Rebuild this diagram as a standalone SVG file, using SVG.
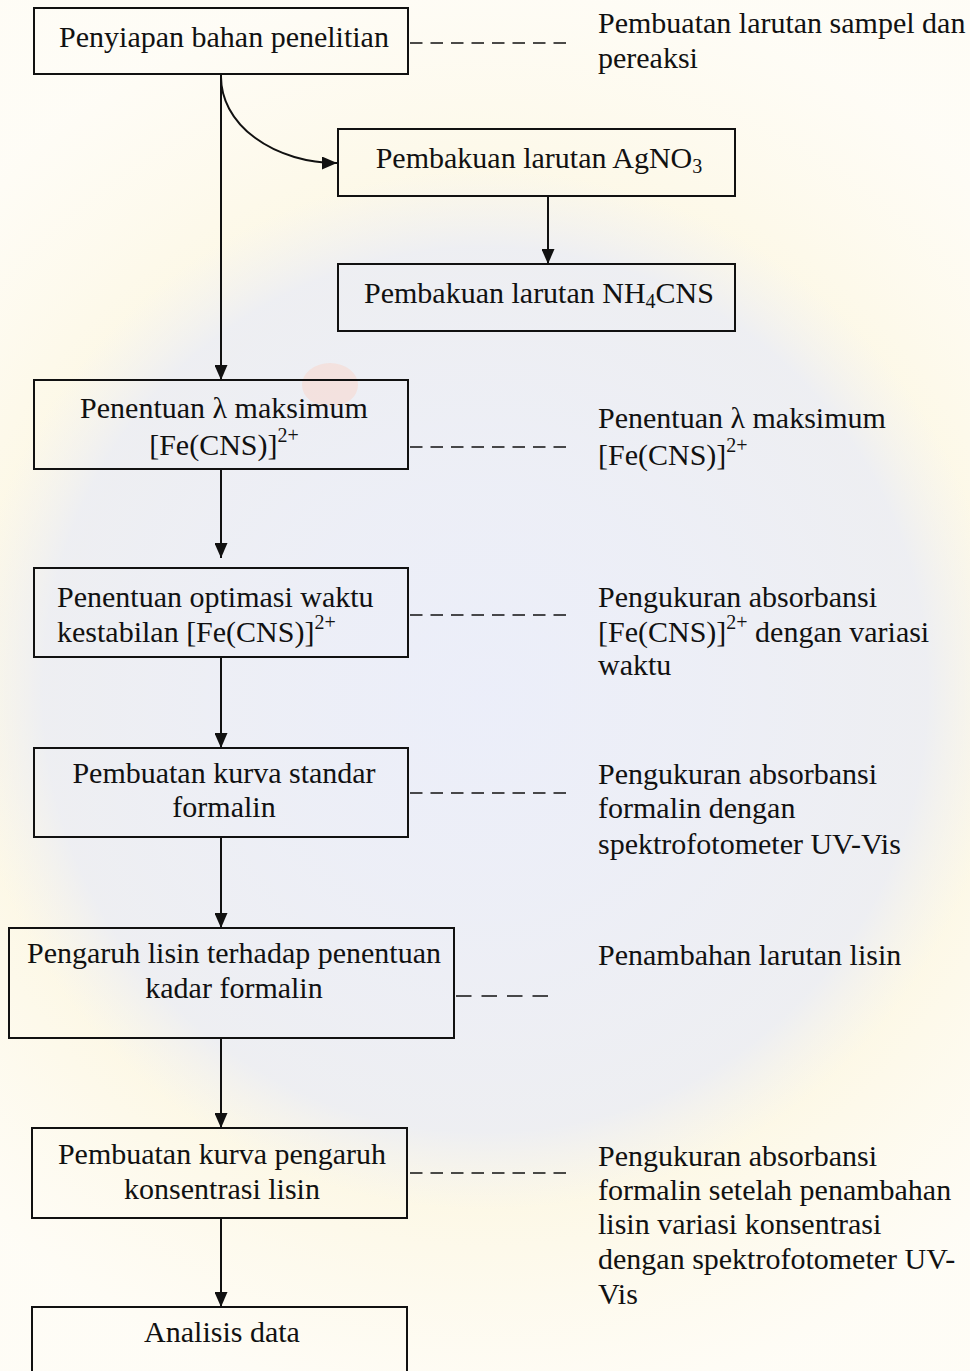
<svg xmlns="http://www.w3.org/2000/svg" width="970" height="1371" viewBox="0 0 970 1371">
<style>
text{font-family:"Liberation Serif","Times New Roman",serif;font-size:30px;fill:#111}
.c{text-anchor:middle}
.sup{font-size:20px}
.sub{font-size:20px}
.box{fill:none;stroke:#111;stroke-width:2}
.ln{fill:none;stroke:#111;stroke-width:2}
.dash{fill:none;stroke:#111;stroke-width:1.6;stroke-dasharray:12.5 8}
.dash2{fill:none;stroke:#111;stroke-width:1.6;stroke-dasharray:15.5 10}
</style>
<defs>
<marker id="ah" viewBox="0 0 15 13" refX="15" refY="6.5" markerWidth="15" markerHeight="13" markerUnits="userSpaceOnUse" orient="auto">
<path d="M0,0 L15,6.5 L0,13 Z" fill="#111"/>
</marker>
<radialGradient id="wmY" cx="485" cy="700" r="720" gradientUnits="userSpaceOnUse">
<stop offset="0" stop-color="#fbf3d4" stop-opacity="0"/>
<stop offset="0.6" stop-color="#fbf4d8" stop-opacity="0.8"/>
<stop offset="1" stop-color="#fdf8e8" stop-opacity="0.4"/>
</radialGradient>
<radialGradient id="wmB" cx="485" cy="690" r="520" gradientUnits="userSpaceOnUse">
<stop offset="0" stop-color="#e8ebf8" stop-opacity="0.85"/>
<stop offset="0.85" stop-color="#e9ecf8" stop-opacity="0.75"/>
<stop offset="1" stop-color="#eef0fa" stop-opacity="0"/>
</radialGradient>
</defs>
<rect x="0" y="0" width="970" height="1371" fill="#ffffff"/>
<g id="watermark">
<rect x="0" y="0" width="970" height="1371" fill="url(#wmY)"/>
<circle cx="485" cy="690" r="520" fill="url(#wmB)"/>
<ellipse cx="330" cy="385" rx="28" ry="22" fill="#f6d9d0" opacity="0.6"/>
</g>

<g id="connectors">
<line class="ln" x1="221" y1="74" x2="221" y2="380" marker-end="url(#ah)"/>
<path class="ln" d="M221,77 A116,86 0 0 0 337,163" marker-end="url(#ah)"/>
<line class="ln" x1="548" y1="196" x2="548" y2="264" marker-end="url(#ah)"/>
<line class="ln" x1="221" y1="469" x2="221" y2="558" marker-end="url(#ah)"/>
<line class="ln" x1="221" y1="657" x2="221" y2="748" marker-end="url(#ah)"/>
<line class="ln" x1="221" y1="837" x2="221" y2="928" marker-end="url(#ah)"/>
<line class="ln" x1="221" y1="1038" x2="221" y2="1128" marker-end="url(#ah)"/>
<line class="ln" x1="221" y1="1218" x2="221" y2="1307" marker-end="url(#ah)"/>
<line class="dash" x1="410" y1="43" x2="566" y2="43"/>
<line class="dash" x1="410" y1="447" x2="566" y2="447"/>
<line class="dash" x1="410" y1="615" x2="566" y2="615"/>
<line class="dash" x1="410" y1="793" x2="566" y2="793"/>
<line class="dash2" x1="456" y1="996" x2="548" y2="996"/>
<line class="dash" x1="410" y1="1173" x2="566" y2="1173"/>
</g>

<g id="n1">
<rect class="box" x="34" y="8" width="374" height="66"/>
<text class="c" x="224" y="47">Penyiapan bahan penelitian</text>
</g>
<g id="n1-note">
<text x="598" y="33">Pembuatan larutan sampel dan</text>
<text x="598" y="68">pereaksi</text>
</g>

<g id="n2">
<rect class="box" x="338" y="129" width="397" height="67"/>
<text class="c" x="539" y="168">Pembakuan larutan AgNO<tspan class="sub" dy="5">3</tspan></text>
</g>

<g id="n3">
<rect class="box" x="338" y="264" width="397" height="67"/>
<text class="c" x="539" y="303">Pembakuan larutan NH<tspan class="sub" dy="5">4</tspan><tspan dy="-5">CNS</tspan></text>
</g>

<g id="n4">
<rect class="box" x="34" y="380" width="374" height="89"/>
<text class="c" x="224" y="418">Penentuan λ maksimum</text>
<text class="c" x="224" y="455">[Fe(CNS)]<tspan class="sup" dy="-13">2+</tspan></text>
</g>
<g id="n4-note">
<text x="598" y="428">Penentuan λ maksimum</text>
<text x="598" y="465">[Fe(CNS)]<tspan class="sup" dy="-13">2+</tspan></text>
</g>

<g id="n5">
<rect class="box" x="34" y="568" width="374" height="89"/>
<text x="57" y="607">Penentuan optimasi waktu</text>
<text x="57" y="642">kestabilan [Fe(CNS)]<tspan class="sup" dy="-13">2+</tspan></text>
</g>
<g id="n5-note">
<text x="598" y="607">Pengukuran absorbansi</text>
<text x="598" y="642">[Fe(CNS)]<tspan class="sup" dy="-13">2+</tspan><tspan dy="13"> dengan variasi</tspan></text>
<text x="598" y="675">waktu</text>
</g>

<g id="n6">
<rect class="box" x="34" y="748" width="374" height="89"/>
<text class="c" x="224" y="783">Pembuatan kurva standar</text>
<text class="c" x="224" y="817">formalin</text>
</g>
<g id="n6-note">
<text x="598" y="784">Pengukuran absorbansi</text>
<text x="598" y="818">formalin dengan</text>
<text x="598" y="854">spektrofotometer UV-Vis</text>
</g>

<g id="n7">
<rect class="box" x="9" y="928" width="445" height="110"/>
<text class="c" x="234" y="963">Pengaruh lisin terhadap penentuan</text>
<text class="c" x="234" y="998">kadar formalin</text>
</g>
<g id="n7-note">
<text x="598" y="965">Penambahan larutan lisin</text>
</g>

<g id="n8">
<rect class="box" x="32" y="1128" width="375" height="90"/>
<text class="c" x="222" y="1164">Pembuatan kurva pengaruh</text>
<text class="c" x="222" y="1199">konsentrasi lisin</text>
</g>
<g id="n8-note">
<text x="598" y="1166">Pengukuran absorbansi</text>
<text x="598" y="1200">formalin setelah penambahan</text>
<text x="598" y="1234">lisin variasi konsentrasi</text>
<text x="598" y="1269">dengan spektrofotometer UV-</text>
<text x="598" y="1304">Vis</text>
</g>

<g id="n9">
<path class="box" d="M32,1380 L32,1307 L407,1307 L407,1380"/>
<text class="c" x="222" y="1342">Analisis data</text>
</g>
</svg>
